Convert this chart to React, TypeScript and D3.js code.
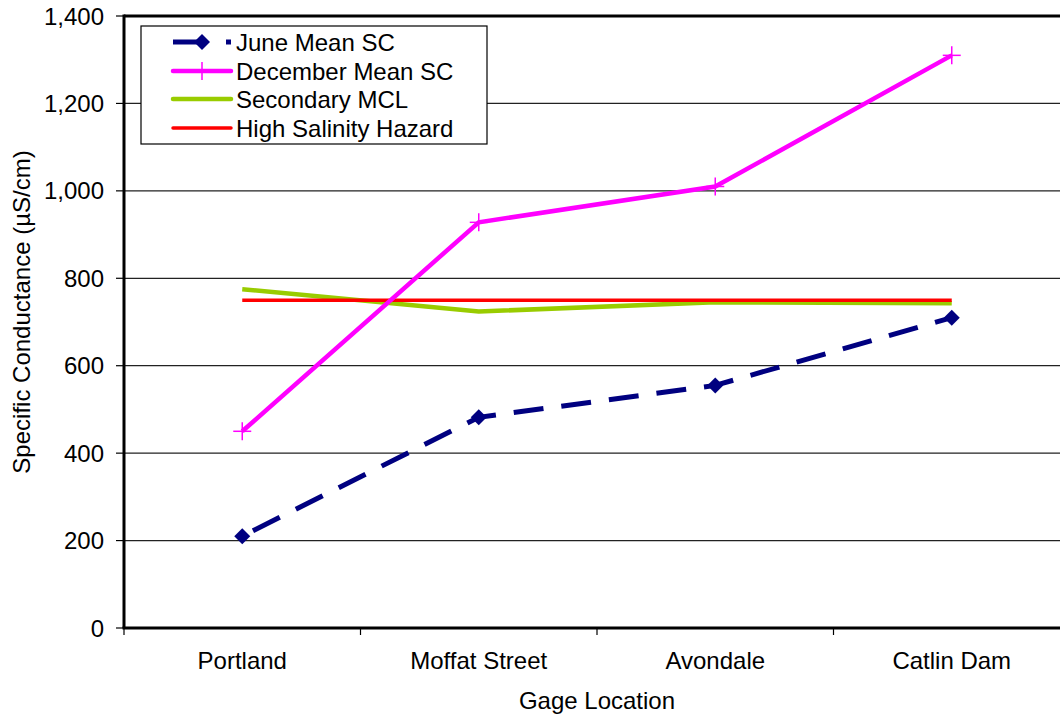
import React from "react";
import * as d3 from "d3";

const categories = ["Portland", "Moffat Street", "Avondale", "Catlin Dam"];
const juneMeanSC = [210, 482, 555, 710];
const decemberMeanSC = [450, 928, 1010, 1310];
const secondaryMCL = [775, 724, 745, 743];
const highSalinityHazard = [750, 750, 750, 750];
const yTicks = [0, 200, 400, 600, 800, 1000, 1200, 1400];

const W = 1060;
const H = 716;
const left = 124;
const right = 1070;
const top = 16;
const bottom = 628;
const FONT = "Liberation Sans, Arial, sans-serif";

export default function App() {
  const x = d3.scaleBand<string>().domain(categories).range([left, right]).padding(0);
  const y = d3.scaleLinear().domain([0, 1400]).range([bottom, top]);
  const cx = (c: string) => (x(c) as number) + x.bandwidth() / 2;
  const line = d3
    .line<number>()
    .x((_, i) => cx(categories[i]))
    .y((d) => y(d));
  const fmt = d3.format(",");
  const boundaries = categories.map((c) => x(c) as number);

  const diamond = (px: number, py: number, r: number) =>
    `M${px},${py - r}L${px + r},${py}L${px},${py + r}L${px - r},${py}Z`;

  const legendRows = [
    { label: "June Mean SC", y: 42 },
    { label: "December Mean SC", y: 71 },
    { label: "Secondary MCL", y: 99 },
    { label: "High Salinity Hazard", y: 128 },
  ];

  return (
    <svg width={W} height={H} style={{ position: "absolute", left: 0, top: 0 }} fontFamily={FONT}>
      <rect x={0} y={0} width={W} height={H} fill="#fff" />
      {/* gridlines */}
      {yTicks.filter((t) => t > 0 && t < 1400).map((t) => (
        <line key={t} x1={left} x2={W} y1={y(t)} y2={y(t)} stroke="#222" strokeWidth={1.2} />
      ))}
      {/* frame top */}
      <line x1={left} x2={W} y1={top} y2={top} stroke="#000" strokeWidth={3} />
      {/* y axis */}
      <line x1={left} x2={left} y1={top - 1.5} y2={bottom} stroke="#000" strokeWidth={3} />
      {yTicks.map((t) => (
        <g key={t}>
          <line x1={left - 8} x2={left} y1={y(t)} y2={y(t)} stroke="#000" strokeWidth={1.2} />
          <text x={104} y={y(t)} dy="0.36em" textAnchor="end" fontSize={24} fill="#000">
            {fmt(t)}
          </text>
        </g>
      ))}
      {/* x axis */}
      <line x1={left - 1.5} x2={W} y1={bottom} y2={bottom} stroke="#000" strokeWidth={3} />
      {boundaries.map((b, i) => (
        <line key={i} x1={b} x2={b} y1={bottom} y2={bottom + 7} stroke="#000" strokeWidth={1.2} />
      ))}
      {categories.map((c) => (
        <text key={c} x={cx(c)} y={669} textAnchor="middle" fontSize={24} fill="#000">
          {c}
        </text>
      ))}
      <text x={597} y={709} textAnchor="middle" fontSize={24} fill="#000">
        Gage Location
      </text>
      <text
        transform={`translate(30,312) rotate(-90)`}
        textAnchor="middle"
        fontSize={24}
        fill="#000"
      >
        Specific Conductance (µS/cm)
      </text>

      {/* series */}
      <path d={line(secondaryMCL) || ""} fill="none" stroke="#99CC00" strokeWidth={4.5} />
      <path d={line(highSalinityHazard) || ""} fill="none" stroke="#FF0000" strokeWidth={3.5} />
      <path d={line(decemberMeanSC) || ""} fill="none" stroke="#FF00FF" strokeWidth={4.5} />
      {decemberMeanSC.map((v, i) => {
        const px = cx(categories[i]);
        const py = y(v);
        return (
          <g key={i} stroke="#FF00FF" strokeWidth={1.5}>
            <line x1={px - 9} x2={px + 9} y1={py} y2={py} />
            <line x1={px} x2={px} y1={py - 9} y2={py + 9} />
          </g>
        );
      })}
      <path
        d={line(juneMeanSC) || ""}
        fill="none"
        stroke="#000080"
        strokeWidth={5}
        strokeDasharray="30 18"
        strokeDashoffset={-12}
      />
      {juneMeanSC.map((v, i) => (
        <path key={i} d={diamond(cx(categories[i]), y(v), 8)} fill="#000080" />
      ))}

      {/* legend */}
      <rect x={141} y={26} width={346} height={118} fill="#fff" stroke="#000" strokeWidth={1.2} />
      {legendRows.map((r, i) => (
        <g key={r.label}>
          {i === 0 && (
            <g>
              <line x1={173} x2={202} y1={r.y} y2={r.y} stroke="#000080" strokeWidth={5} />
              <path d={diamond(202, r.y, 8)} fill="#000080" />
              <rect x={226} y={r.y - 2.5} width={5} height={5} fill="#000080" />
            </g>
          )}
          {i === 1 && (
            <g stroke="#FF00FF">
              <line x1={173} x2={231} y1={r.y} y2={r.y} strokeWidth={4.5} strokeLinecap="round" />
              <line x1={202} x2={202} y1={r.y - 9} y2={r.y + 9} strokeWidth={1.5} />
            </g>
          )}
          {i === 2 && (
            <line x1={173} x2={231} y1={r.y} y2={r.y} stroke="#99CC00" strokeWidth={4.5} strokeLinecap="round" />
          )}
          {i === 3 && (
            <line x1={173} x2={231} y1={r.y} y2={r.y} stroke="#FF0000" strokeWidth={3.5} strokeLinecap="round" />
          )}
          <text x={236} y={r.y} dy="0.36em" fontSize={24} fill="#000">
            {r.label}
          </text>
        </g>
      ))}
    </svg>
  );
}
